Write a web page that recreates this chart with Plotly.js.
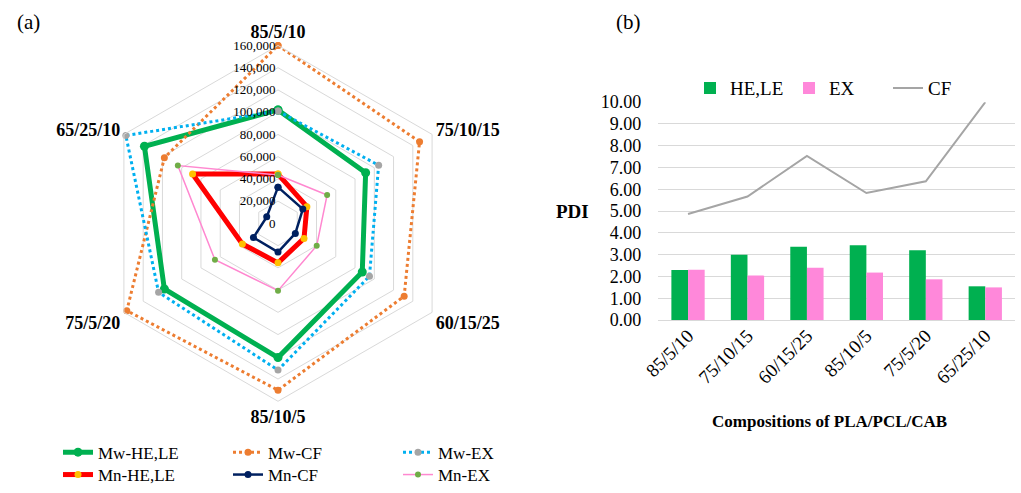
<!DOCTYPE html>
<html>
<head>
<meta charset="utf-8">
<script src="https://cdn.plot.ly/plotly-3.0.1.min.js"></script>
<style>html,body{margin:0;padding:0;background:#fff;}#chart{width:1021px;height:493px;}</style>
</head>
<body>
<div id="chart"></div>
<script>
// ---- Data ----
const categories = ['85/5/10', '75/10/15', '60/15/25', '85/10/5', '75/5/20', '65/25/10'];
const mwHELE = [102000, 91000, 87500, 120700, 118000, 138700];
const mwCF   = [160000, 147000, 131000, 150000, 157000, 118000];
const mwEX   = [101000, 104500, 95000, 131900, 124000, 158000];
const mnHELE = [44300, 30000, 27000, 35500, 37000, 88700];
const mnCF   = [32600, 25800, 18000, 25800, 25500, 11700];
const mnEX   = [43500, 51000, 40200, 60500, 65500, 104000];

const pdiHELE = [2.30, 3.00, 3.37, 3.43, 3.21, 1.55];
const pdiEX   = [2.31, 2.04, 2.40, 2.18, 1.87, 1.50];
const pdiCF   = [4.87, 5.67, 7.53, 5.83, 6.37, 10.00];

const SERIF = 'Liberation Serif, Times New Roman, serif';
const W = 1021, H = 493;

function closed(arr) { return arr.concat([arr[0]]); }

function radar(name, vals, lineColor, width, dash, markerColor, msize, legend) {
  return {
    type: 'scatterpolar', mode: 'lines+markers', name: name,
    r: closed(vals), theta: closed(categories),
    line: {color: lineColor, width: width, dash: dash},
    marker: {color: markerColor, size: msize},
    legend: legend, hoverinfo: 'skip'
  };
}

const data = [
  radar('Mw-HE,LE', mwHELE, '#00B050', 5, 'solid', '#00B050', 9, 'legend'),
  radar('Mw-CF', mwCF, '#ED7D31', 3, 'dot', '#ED7D31', 7, 'legend'),
  radar('Mw-EX', mwEX, '#00B0F0', 3, 'dot', '#A5A5A5', 7, 'legend'),
  radar('Mn-HE,LE', mnHELE, '#FF0000', 5, 'solid', '#FFC000', 7, 'legend2'),
  radar('Mn-CF', mnCF, '#002060', 2.5, 'solid', '#002060', 7, 'legend2'),
  radar('Mn-EX', mnEX, '#FF88D0', 1.5, 'solid', '#70AD47', 6, 'legend2'),
  {type: 'bar', name: 'HE,LE', x: categories, y: pdiHELE, marker: {color: '#00B050'},
   xaxis: 'x', yaxis: 'y', legend: 'legend3', hoverinfo: 'skip'},
  {type: 'bar', name: 'EX', x: categories, y: pdiEX, marker: {color: '#FF88DA'},
   xaxis: 'x', yaxis: 'y', legend: 'legend3', hoverinfo: 'skip'},
  {type: 'scatter', mode: 'lines', name: 'CF', x: categories, y: pdiCF,
   line: {color: '#A5A5A5', width: 2}, xaxis: 'x', yaxis: 'y', legend: 'legend3',
   cliponaxis: false, hoverinfo: 'skip'}
];

const cx = 278, cy = 228, R = 181.6;

const layout = {
  width: W, height: H,
  margin: {l: 0, r: 0, t: 0, b: 0},
  paper_bgcolor: '#fff', plot_bgcolor: '#fff',
  font: {family: SERIF, color: '#000'},
  showlegend: true,
  barmode: 'group', bargap: 0.44, bargroupgap: 0,
  polar: {
    domain: {x: [(cx - R) / W, (cx + R) / W], y: [1 - (cy + R) / H, 1 - (cy - R) / H]},
    gridshape: 'linear',
    bgcolor: 'rgba(0,0,0,0)',
    angularaxis: {
      direction: 'clockwise', rotation: 90,
      categoryorder: 'array', categoryarray: categories,
      showgrid: false, showline: true, linecolor: '#D9D9D9', linewidth: 1,
      ticks: '',
      tickfont: {family: SERIF, size: 18, color: '#000', weight: 'bold'}
    },
    radialaxis: {
      range: [0, 160000], dtick: 20000, tickformat: ',',
      angle: 90, tickangle: 90, side: 'counterclockwise',
      showline: false, ticks: '', gridcolor: '#D9D9D9', gridwidth: 1,
      tickfont: {family: SERIF, size: 13, color: '#000'}
    }
  },
  xaxis: {
    domain: [658.3 / W, 1015 / W], anchor: 'y', type: 'category',
    tickangle: -45, showgrid: false, showline: false, zeroline: false, ticks: '',
    tickfont: {family: SERIF, size: 19, color: '#000'}, automargin: false
  },
  yaxis: {
    domain: [1 - 326.7 / H, 1 - 104.3 / H], anchor: 'x',
    range: [0, 10], dtick: 1, tickformat: '.2f',
    gridcolor: '#D9D9D9', gridwidth: 1, zeroline: true, zerolinecolor: '#D9D9D9', zerolinewidth: 1,
    showline: false, ticks: '', ticklabelstandoff: 16,
    tickfont: {family: SERIF, size: 18, color: '#000'}, automargin: false
  },
  legend: {
    orientation: 'h', x: 58 / W, xanchor: 'left', y: 1 - 462 / H, yanchor: 'middle',
    entrywidth: 125, entrywidthmode: 'pixels', bgcolor: 'rgba(0,0,0,0)',
    font: {family: SERIF, size: 17, color: '#000'}, itemclick: false
  },
  legend2: {
    orientation: 'h', x: 58 / W, xanchor: 'left', y: 1 - 485 / H, yanchor: 'middle',
    entrywidth: 125, entrywidthmode: 'pixels', bgcolor: 'rgba(0,0,0,0)',
    font: {family: SERIF, size: 17, color: '#000'}, itemclick: false
  },
  legend3: {
    orientation: 'h', x: 690 / W, xanchor: 'left', y: 1 - 90 / H, yanchor: 'middle',
    entrywidth: 54, entrywidthmode: 'pixels', bgcolor: 'rgba(0,0,0,0)',
    font: {family: SERIF, size: 19, color: '#000'}, itemclick: false
  },
  annotations: [
    {text: '(a)', x: 28 / W, y: 1 - 22 / H, xref: 'paper', yref: 'paper', showarrow: false,
     xanchor: 'center', yanchor: 'middle', font: {family: SERIF, size: 21, color: '#000'}},
    {text: '(b)', x: 628 / W, y: 1 - 22 / H, xref: 'paper', yref: 'paper', showarrow: false,
     xanchor: 'center', yanchor: 'middle', font: {family: SERIF, size: 21, color: '#000'}},
    {text: 'PDI', x: 572 / W, y: 1 - 216 / H, xref: 'paper', yref: 'paper', showarrow: false,
     xanchor: 'center', yanchor: 'middle', font: {family: SERIF, size: 19, color: '#000', weight: 'bold'}},
    {text: 'Compositions of PLA/PCL/CAB', x: 829 / W, y: 1 - 430 / H, xref: 'paper', yref: 'paper',
     showarrow: false, xanchor: 'center', yanchor: 'middle',
     font: {family: SERIF, size: 17, color: '#000', weight: 'bold'}}
  ]
};

Plotly.newPlot('chart', data, layout, {displayModeBar: false, staticPlot: true});
</script>
</body>
</html>
